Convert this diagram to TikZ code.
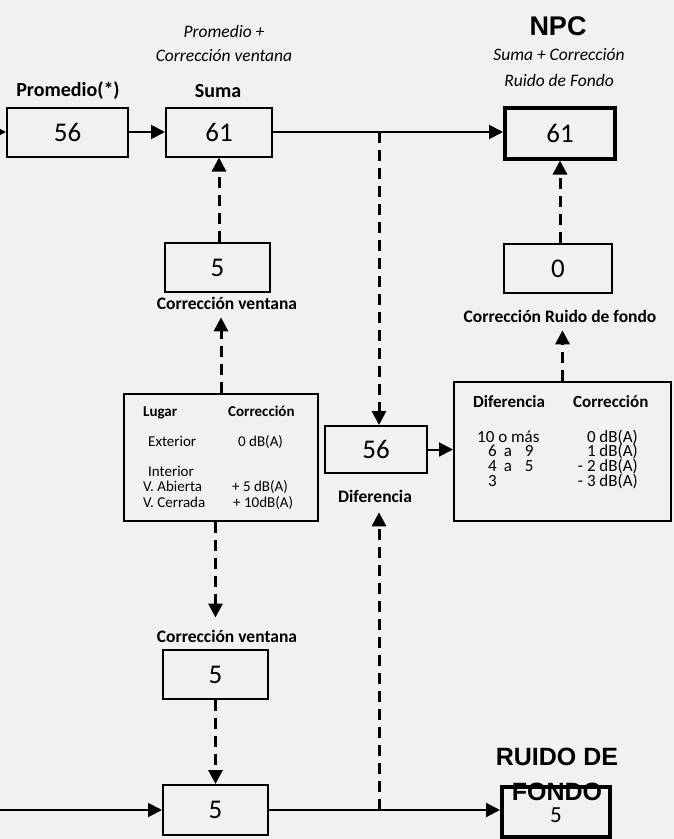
\documentclass[tikz,border=0pt]{standalone}
\usepackage{fontspec}
\setmainfont{Carlito}
\newfontfamily\arialfont{Liberation Sans}
\usetikzlibrary{arrows.meta}
\definecolor{paper}{RGB}{241,241,239}
\tikzset{
  num/.style={font=\fontsize{27}{32}\selectfont},
  box/.style={draw, line width=2pt, inner sep=0pt, num},
  tbox/.style={draw, line width=4pt, inner sep=0pt, num},
  lbl/.style={font=\fontsize{20}{24}\selectfont\bfseries, inner sep=0pt},
  slbl/.style={font=\fontsize{17.5}{21}\selectfont\bfseries, inner sep=0pt},
  ital/.style={font=\fontsize{17.5}{21}\selectfont\itshape, inner sep=0pt},
  tabL/.style={font=\fontsize{15}{15.5}\selectfont, inner sep=0pt, anchor=base west, align=left},
  tabLb/.style={font=\fontsize{15}{17}\selectfont\bfseries, inner sep=0pt, anchor=base west},
  tabD/.style={font=\fontsize{17}{14.8}\selectfont, inner sep=0pt, anchor=base west, align=left},
  tabDr/.style={font=\fontsize{17}{14.8}\selectfont, inner sep=0pt, anchor=base east, align=right},
  tabDb/.style={font=\fontsize{17}{19}\selectfont\bfseries, inner sep=0pt, anchor=base west},
  head/.style={font=\arialfont\bfseries\fontsize{27}{30}\selectfont, inner sep=0pt},
  head2/.style={font=\arialfont\bfseries\fontsize{25}{28}\selectfont, inner sep=0pt, anchor=base},
  solidarrow/.style={line width=2pt, -{Triangle[length=14pt,width=14pt]}},
  dasharrow/.style={line width=3pt, dash pattern=on 11pt off 7pt, -{Triangle[length=14pt,width=14pt]}},
}
\begin{document}
\begin{tikzpicture}[x=1pt,y=-1pt]
\fill[paper] (0,0) rectangle (674,839);
\clip (0,0) rectangle (674,839);

% top labels
\node[ital] (it1) at (224,31) {Promedio +};
\node[ital] (it2) at (224,56) {Corrección ventana};
\node[head] (npclbl) at (558,26) {NPC};
\node[ital] (it3) at (559,55) {Suma + Corrección};
\node[ital] (it4) at (559,80) {Ruido de Fondo};
\node[lbl] (lprom) at (68,91) {Promedio(*)};
\node[lbl] (lsuma) at (218,91) {Suma};

% top row boxes
\coordinate (in1) at (-16,132);
\node[box, minimum width=121pt, minimum height=49pt] (prom) at (67.5,132) {56};
\node[box, minimum width=106pt, minimum height=49pt] (suma) at (219,132) {61};
\node[tbox, minimum width=110pt, minimum height=51pt] (npc) at (560,133) {61};
\coordinate (j1) at (379,132);

% correction boxes
\node[box, minimum width=105pt, minimum height=49pt] (c1) at (217.5,267.5) {5};
\node[slbl, anchor=base] (lc1) at (227,309) {Corrección ventana};
\node[box, minimum width=108pt, minimum height=49pt] (c0) at (558,268.5) {0};
\node[slbl, anchor=base] (lc0) at (560,322) {Corrección Ruido de fondo};

% Lugar table
\node[draw, line width=2pt, minimum width=194pt, minimum height=127pt, inner sep=0pt] (lugar) at (221,457.5) {};
\node[tabLb] (lg1) at (143,416) {Lugar};
\node[tabLb] (lg2) at (228,416) {Corrección};
\node[tabL] (lg3) at (148,446) {Exterior};
\node[tabL] (lg4) at (238,446) {0 dB(A)};
\node[tabL] (lg5) at (143,507) {\hspace{5pt}Interior\\V. Abierta\\V. Cerrada};
\node[tabL] (lg8) at (232,507) {+ 5 dB(A)\\\hspace{1pt}+ 10dB(A)};

% Diferencia
\node[box, minimum width=102pt, minimum height=47pt] (d56) at (376,449.5) {56};
\node[slbl, anchor=base] (ldif) at (375,502) {Diferencia};

% Diferencia table
\node[draw, line width=2pt, minimum width=217pt, minimum height=139pt, inner sep=0pt] (dtab) at (562.5,451.5) {};
\node[tabDb] (dt1) at (473,407) {Diferencia};
\node[tabDb] (dt2) at (573,407) {Corrección};
\node[tabD] (dt3) at (477,486.5) {10 o más\\\hspace{11pt}6\hspace{7pt}a\hspace{13pt}9\\\hspace{11pt}4\hspace{7pt}a\hspace{13pt}5\\\hspace{11pt}3};
\node[tabDr] (dt7) at (638,486.5) {0 dB(A)\\1 dB(A)\\- 2 dB(A)\\- 3 dB(A)};

% lower column
\node[slbl, anchor=base] (lc2) at (227,642) {Corrección ventana};
\node[box, minimum width=105pt, minimum height=49pt] (c2) at (215.5,674.5) {5};
\coordinate (in2) at (-16,810);
\node[box, minimum width=105pt, minimum height=50pt] (bot) at (215.5,810) {5};
\coordinate (j2) at (379,810);

% Ruido de fondo
\node[head2] (rd1) at (557,765) {RUIDO DE};
\node[head2] (rd2) at (557,800) {FONDO};
\node[tbox, minimum width=108pt, minimum height=50pt] (ruido) at (556,812) {};
\node[font=\fontsize{23}{26}\selectfont, inner sep=0pt] (r5) at (556,815) {5};

% solid connectors
\draw[solidarrow] (in1) -- (prom.west);
\draw[solidarrow] (prom.east) -- (suma.west);
\draw[solidarrow] (suma.east) -- (suma.east -| npc.west);
\draw[solidarrow] (in2) -- (bot.west);
\draw[solidarrow] (bot.east) -- (bot.east -| ruido.west);
\draw[solidarrow] (d56.east) -- (d56.east -| dtab.west);

% dashed connectors
\draw[dasharrow] (j1) -- (j1 |- d56.north);
\draw[dasharrow] (j2) -- ([yshift=-10pt]j2 |- ldif.south);
\draw[dasharrow] (c1.north -| suma.south) -- (suma.south);
\draw[dasharrow] (lugar.north) -- ([yshift=-8pt]lugar.north |- lc1.south);
\draw[dasharrow] (lugar.south -| c2.north) -- ([yshift=12pt]c2.north |- lc2.north);
\draw[dasharrow] (c2.south) -- (bot.north);
\draw[dasharrow] (dtab.north) -- ([yshift=-8pt]dtab.north |- lc0.south);
\draw[dasharrow] (c0.north -| npc.south) -- (npc.south);
\end{tikzpicture}
\end{document}
